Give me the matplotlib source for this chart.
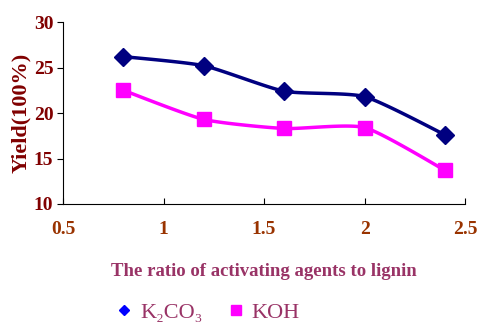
import matplotlib.pyplot as plt
from matplotlib.lines import Line2D
import numpy as np

ratio = [0.8, 1.2, 1.6, 2.0, 2.4]
k2co3 = [26.2, 25.2, 22.4, 21.8, 17.6]
koh = [22.5, 19.3, 18.3, 18.4, 13.7]

plt.rcParams['font.family'] = ['Liberation Serif', 'DejaVu Serif']
plt.rcParams['font.weight'] = 'bold'


def smooth(x, y, n=30, k=10):
    # gently rounded joins, similar to Excel's smoothed line
    x = np.asarray(x, float)
    y = np.asarray(y, float)
    px = np.concatenate([[x[0]], x, [x[-1]]])
    py = np.concatenate([[y[0]], y, [y[-1]]])
    xs, ys = [], []
    t = np.linspace(0, 1, n)
    for i in range(1, len(px) - 2):
        p0 = np.array([px[i], py[i]])
        p3 = np.array([px[i + 1], py[i + 1]])
        p1 = p0 + (p3 - np.array([px[i - 1], py[i - 1]])) / k
        p2 = p3 - (np.array([px[i + 2], py[i + 2]]) - p0) / k
        b = ((1 - t) ** 3)[:, None] * p0 + (3 * (1 - t) ** 2 * t)[:, None] * p1 \
            + (3 * (1 - t) * t ** 2)[:, None] * p2 + (t ** 3)[:, None] * p3
        xs.extend(b[:, 0])
        ys.extend(b[:, 1])
    return xs, ys


fig = plt.figure(figsize=(4.79, 3.22), dpi=100)
ax = fig.add_axes([0.1315, 0.3665, 0.8395, 0.565])

sx, sy = smooth(ratio, k2co3)
ax.plot(sx, sy, color='#000080', lw=2.5)
ax.plot(ratio, k2co3, 'D', color='#000080', ms=9)
sx, sy = smooth(ratio, koh)
ax.plot(sx, sy, color='#ff00ff', lw=2.5)
ax.plot(ratio, koh, 's', color='#ff00ff', ms=10)

ax.set_xlim(0.5, 2.5)
ax.set_ylim(10, 30)
ax.set_xticks([0.5, 1, 1.5, 2, 2.5])
ax.set_xticklabels(['0.5', '1', '1.5', '2', '2.5'])
ax.set_yticks([10, 15, 20, 25, 30])
ax.spines['top'].set_visible(False)
ax.spines['right'].set_visible(False)
ax.tick_params(axis='x', direction='in', length=4, pad=12, labelsize=14, labelcolor='#993300')
ax.tick_params(axis='y', direction='out', length=4, pad=3, labelsize=14, labelcolor='#800000')

ax.set_ylabel('Yield(100%)', color='#800000', fontsize=16, fontweight='bold', labelpad=2)
ax.set_xlabel('The ratio of activating agents to lignin', color='#993366', fontsize=13.5,
              fontweight='bold', labelpad=18)

handles = [Line2D([], [], ls='none', marker='D', color='#0000ff', ms=5),
           Line2D([], [], ls='none', marker='s', color='#ff00ff', ms=7)]
fig.legend(handles, ['K₂CO₃', 'KOH'], loc='lower center',
           bbox_to_anchor=(0.433, -0.065), ncol=2, frameon=False,
           prop={'size': 16, 'weight': 'normal'}, handlelength=0.8, handletextpad=0.3,
           columnspacing=1.1, labelcolor='#993366')

fig.savefig('out.png', dpi=100)
